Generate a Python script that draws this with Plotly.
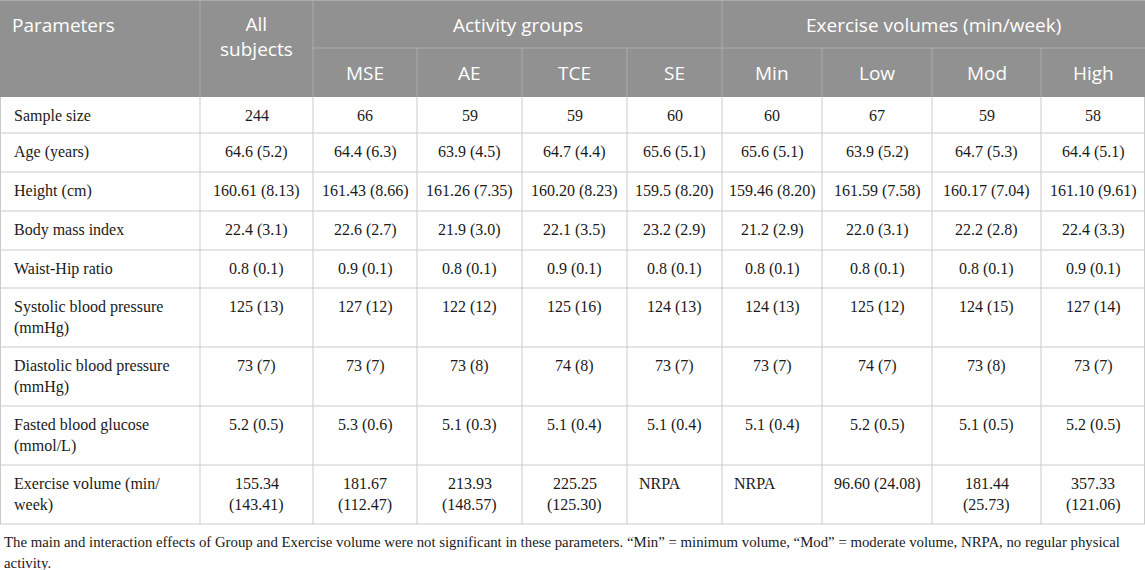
import plotly.graph_objects as go

# ---------------- data ----------------
parameters = [
    "Sample size",
    "Age (years)",
    "Height (cm)",
    "Body mass index",
    "Waist-Hip ratio",
    "Systolic blood pressure<br>(mmHg)",
    "Diastolic blood pressure<br>(mmHg)",
    "Fasted blood glucose<br>(mmol/L)",
    "Exercise volume (min/<br>week)",
]
first_header = "Parameters"
column_labels = ["All<br>subjects", "MSE", "AE", "TCE", "SE", "Min", "Low", "Mod", "High"]
group_labels = ["Activity groups", "Exercise volumes (min/week)"]

all_subjects = ["244", "64.6 (5.2)", "160.61 (8.13)", "22.4 (3.1)", "0.8 (0.1)",
                "125 (13)", "73 (7)", "5.2 (0.5)", "155.34<br>(143.41)"]
mse = ["66", "64.4 (6.3)", "161.43 (8.66)", "22.6 (2.7)", "0.9 (0.1)",
       "127 (12)", "73 (7)", "5.3 (0.6)", "181.67<br>(112.47)"]
ae = ["59", "63.9 (4.5)", "161.26 (7.35)", "21.9 (3.0)", "0.8 (0.1)",
      "122 (12)", "73 (8)", "5.1 (0.3)", "213.93<br>(148.57)"]
tce = ["59", "64.7 (4.4)", "160.20 (8.23)", "22.1 (3.5)", "0.9 (0.1)",
       "125 (16)", "74 (8)", "5.1 (0.4)", "225.25<br>(125.30)"]
se = ["60", "65.6 (5.1)", "159.5 (8.20)", "23.2 (2.9)", "0.8 (0.1)",
      "124 (13)", "73 (7)", "5.1 (0.4)", "NRPA"]
vol_min = ["60", "65.6 (5.1)", "159.46 (8.20)", "21.2 (2.9)", "0.8 (0.1)",
           "124 (13)", "73 (7)", "5.1 (0.4)", "NRPA"]
vol_low = ["67", "63.9 (5.2)", "161.59 (7.58)", "22.0 (3.1)", "0.8 (0.1)",
           "125 (12)", "74 (7)", "5.2 (0.5)", "96.60 (24.08)"]
vol_mod = ["59", "64.7 (5.3)", "160.17 (7.04)", "22.2 (2.8)", "0.8 (0.1)",
           "124 (15)", "73 (8)", "5.1 (0.5)", "181.44<br>(25.73)"]
vol_high = ["58", "64.4 (5.1)", "161.10 (9.61)", "22.4 (3.3)", "0.9 (0.1)",
            "127 (14)", "73 (7)", "5.2 (0.5)", "357.33<br>(121.06)"]

footnote_lines = [
    "The main and interaction effects of Group and Exercise volume were not significant in these parameters. "
    "\u201cMin\u201d = minimum volume, \u201cMod\u201d = moderate volume, NRPA, no regular physical",
    "activity.",
]

value_columns = [all_subjects, mse, ae, tce, se, vol_min, vol_low, vol_mod, vol_high]

# ---------------- layout constants ----------------
W, H = 1145, 570
col_edges = [0, 200, 313, 417, 522, 627, 722, 822, 932, 1041, 1145]
hdr_edges = [0, 48, 97]
row_edges = [97, 133, 172, 211, 250, 288, 347, 406, 465, 524]
group_spans = [(2, 6), (6, 10)]  # column index ranges for grouped headers

HEADER_BG = "#919191"
HEADER_LINE = "#ababab"
BODY_LINE = "#cbcbcb"
TEXT = "#1a1a1a"
SANS = "Open Sans"
SERIF = "Liberation Serif"
HFS = 19
BFS = 16
FFS = 14.8
LINE_H = 21.5
FIRST_OFF = 18.5
PAD = 11

shapes = []
annotations = []


def line(x0, y0, x1, y1, color, width=1):
    shapes.append(dict(type="line", xref="x", yref="y", x0=x0, y0=y0, x1=x1, y1=y1,
                       line=dict(color=color, width=width), layer="above"))


def text(x, y, s, font, size, color, anchor="center", yanchor="middle"):
    annotations.append(dict(x=x, y=y, xref="x", yref="y", text=s, showarrow=False,
                            xanchor=anchor, yanchor=yanchor, align=anchor,
                            font=dict(family=font, size=size, color=color)))


def cell_text(x0, x1, top, s, font, size, color, anchor="center", pad=PAD):
    x = (x0 + x1) / 2 if anchor == "center" else x0 + pad
    for i, part in enumerate(s.split("<br>")):
        text(x, top + FIRST_OFF + LINE_H * i, part, font, size, color, anchor)


# header background
shapes.append(dict(type="rect", xref="x", yref="y", x0=col_edges[0], x1=col_edges[-1],
                   y0=hdr_edges[0], y1=hdr_edges[-1], fillcolor=HEADER_BG,
                   line=dict(width=0), layer="below"))

# header lines
line(col_edges[0], hdr_edges[0] + 0.5, col_edges[-1], hdr_edges[0] + 0.5, HEADER_LINE)
for ci in [1, 2, 6]:
    line(col_edges[ci], hdr_edges[0], col_edges[ci], hdr_edges[2], HEADER_LINE)
for ci in [3, 4, 5, 7, 8, 9]:
    line(col_edges[ci], hdr_edges[1], col_edges[ci], hdr_edges[2], HEADER_LINE)
line(col_edges[2], hdr_edges[1], col_edges[-1], hdr_edges[1], HEADER_LINE)

# header text
text(col_edges[0] + 10, hdr_edges[0] + 25, first_header, SANS, HFS, "white", "left")
text((col_edges[1] + col_edges[2]) / 2, hdr_edges[0] + 9, column_labels[0], SANS, HFS,
     "white", "center", "top")
for (a, b), g in zip(group_spans, group_labels):
    text((col_edges[a] + col_edges[b]) / 2, hdr_edges[0] + 25, g, SANS, HFS, "white")
for ci in range(2, 10):
    text((col_edges[ci] + col_edges[ci + 1]) / 2, hdr_edges[1] + 25, column_labels[ci - 1],
         SANS, HFS, "white")

# body lines
for ci, xe in enumerate(col_edges):
    xx = xe + 0.5 if ci == 0 else (xe - 0.5 if ci == len(col_edges) - 1 else xe)
    line(xx, row_edges[0], xx, row_edges[-1], BODY_LINE)
for ye in row_edges[1:]:
    line(col_edges[0], ye, col_edges[-1], ye, BODY_LINE)

# body text
for ri, p in enumerate(parameters):
    top = row_edges[ri]
    cell_text(col_edges[0], col_edges[1], top, p, SERIF, BFS, TEXT, "left", 12)
    for ci, col in enumerate(value_columns):
        v = col[ri]
        anchor = "left" if v == "NRPA" else "center"
        cell_text(col_edges[ci + 1], col_edges[ci + 2], top, v, SERIF, BFS, TEXT, anchor, 10)

# footnote
for i, fl in enumerate(footnote_lines):
    text(2, row_edges[-1] + 18 + 20.5 * i, fl, SERIF, FFS, TEXT, "left")

fig = go.Figure()
fig.add_trace(go.Scatter(x=[0, W], y=[0, H], mode="markers",
                         marker=dict(opacity=0), hoverinfo="skip", showlegend=False))
fig.update_layout(
    width=W, height=H,
    margin=dict(l=0, r=0, t=0, b=0),
    paper_bgcolor="white", plot_bgcolor="white",
    xaxis=dict(range=[0, W], visible=False, fixedrange=True),
    yaxis=dict(range=[H, 0], visible=False, fixedrange=True),
    shapes=shapes, annotations=annotations,
    showlegend=False,
)
fig.write_html("out.html", config={"displayModeBar": False},
               post_script="document.body.style.margin='0';document.body.style.overflow='hidden';")
